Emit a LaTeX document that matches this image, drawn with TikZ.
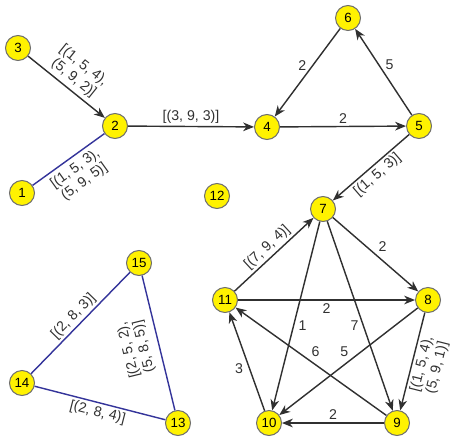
\documentclass[tikz,border=0pt]{standalone}
\usepackage{fontspec}
\setmainfont{Liberation Sans}
\usepackage{xcolor}
\definecolor{vfill}{HTML}{FFF200}
\definecolor{vline}{HTML}{6E6E6E}
\definecolor{ink}{HTML}{303030}
\definecolor{undir}{HTML}{34349A}
\usetikzlibrary{arrows.meta}
\tikzset{
  >={Stealth[length=6.5pt,width=5.2pt,inset=2pt]},
  vtx/.style={circle,draw=vline,fill=vfill,line width=0.6pt,minimum size=15pt,inner sep=0pt,font=\fontsize{8}{9}\selectfont},
  arr/.style={->,draw=ink,line width=0.85pt},
  blu/.style={draw=undir,line width=0.85pt},
  lab/.style={font=\fontsize{8.5}{9.5}\selectfont,text=ink,align=center,inner sep=1.5pt},
}

\begin{document}
\begin{tikzpicture}[x=0.6pt,y=-0.6pt]
\useasboundingbox (0,0) rectangle (450,437);
% vertices
\node[vtx] (n1) at (22,193) {1};
\node[vtx] (n2) at (115,126) {2};
\node[vtx] (n3) at (18,48) {3};
\node[vtx] (n4) at (267,127) {4};
\node[vtx] (n5) at (419,126) {5};
\node[vtx] (n6) at (348,18) {6};
\node[vtx] (n7) at (323,209) {7};
\node[vtx] (n8) at (428,300) {8};
\node[vtx] (n9) at (397,423) {9};
\node[vtx] (n10) at (269,423) {10};
\node[vtx] (n11) at (225,300) {11};
\node[vtx] (n12) at (217,196) {12};
\node[vtx] (n13) at (178,423) {13};
\node[vtx] (n14) at (22,383) {14};
\node[vtx] (n15) at (139,263) {15};
% top chain
\draw[arr] (n3) -- (n2) node[lab,midway,sloped,above=1pt] {[(1, 5, 4),\\(5, 9, 2)]};
\draw[blu] (n1) -- (n2) node[lab,midway,sloped,below=1pt] {[(1, 5, 3),\\(5, 9, 5)]};
\draw[arr] (n2) -- (n4) node[lab,midway,above] {[(3, 9, 3)]};
\draw[arr] (n4) -- (n5) node[lab,midway,above] {2};
\draw[arr] (n6) -- (n4) node[lab,pos=0.42,left=2pt] {2};
\draw[arr] (n5) -- (n6) node[lab,pos=0.58,right=2pt] {5};
\draw[arr] (n5) -- (n7) node[lab,midway,sloped,below] {[(1, 5, 3)]};
% pentagon
\draw[arr] (n11) -- (n7) node[lab,midway,sloped,above] {[(7, 9, 4)]};
\draw[arr] (n7) -- (n8) node[lab,midway,above right] {2};
\draw[arr] (n11) -- (n8) node[lab,midway,below] {2};
\draw[arr] (n7) -- (n10) node[lab,pos=0.55,right=1pt] {1};
\draw[arr] (n7) -- (n9) node[lab,pos=0.55,left=1pt] {7};
\draw[arr] (n8) -- (n10) node[lab,pos=0.53,above=3pt] {5};
\draw[arr] (n9) -- (n11) node[lab,pos=0.47,above=3pt] {6};
\draw[arr] (n10) -- (n11) node[lab,pos=0.43,left=2pt] {3};
\draw[arr] (n9) -- (n10) node[lab,midway,above] {2};
\draw[arr] (n8) -- (n9) node[lab,midway,sloped,below] {[(1, 5, 4),\\(5, 9, 1)]};
% triangle
\draw[blu] (n14) -- (n15) node[lab,midway,sloped,above] {[(2, 8, 3)]};
\draw[blu] (n13) -- (n15) node[lab,midway,sloped,allow upside down,above=3pt] {[(2, 5, 2),\\(5, 8, 5)]};
\draw[blu] (n14) -- (n13) node[lab,midway,sloped,below] {[(2, 8, 4)]};
\end{tikzpicture}
\end{document}
